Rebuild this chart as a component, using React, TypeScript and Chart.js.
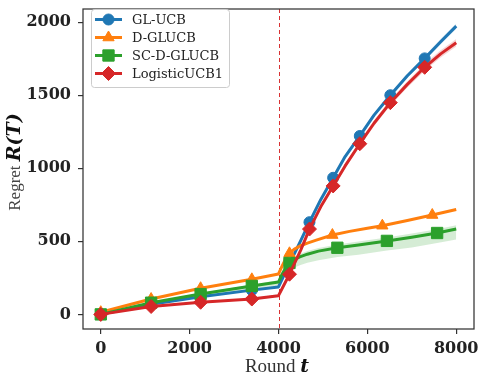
import React, { useEffect, useRef } from 'react';
import { Chart, registerables } from 'chart.js';
Chart.register(...registerables);

const xTicks = [0, 2000, 4000, 6000, 8000];
const yTicks = [0, 500, 1000, 1500, 2000];
const seriesNames = ['GL-UCB', 'D-GLUCB', 'SC-D-GLUCB', 'LogisticUCB1'];
const switchRound = 4000;

// GL-UCB (blue)
const glX = [0, 1133, 2247, 3400, 4000, 4247, 4500, 4697, 4950, 5230, 5500, 5830, 6150, 6517, 6900, 7290, 7650, 8000];
const glY = [0, 70, 120, 166, 188, 345, 505, 631, 785, 935, 1080, 1221, 1364, 1500, 1633, 1752, 1866, 1973];
const glLo = [0, 68, 117, 162, 183, 339, 497, 622, 775, 924, 1068, 1208, 1350, 1485, 1617, 1735, 1848, 1955];
const glHi = [0, 72, 123, 170, 193, 351, 513, 640, 795, 946, 1092, 1234, 1378, 1515, 1649, 1769, 1884, 1991];
const glMarks = [0, 1133, 2247, 3400, 4247, 4697, 5230, 5830, 6517, 7290];

// D-GLUCB (orange)
const dX = [0, 1133, 2247, 3400, 4000, 4080, 4170, 4247, 4350, 4480, 4650, 4850, 5213, 5600, 6000, 6337, 6900, 7461, 8000];
const dY = [15, 105, 179, 240, 277, 330, 385, 418, 445, 468, 488, 508, 543, 568, 589, 607, 642, 680, 718];
const dMarks = [0, 1133, 2247, 3400, 4247, 5213, 6337, 7461];

// SC-D-GLUCB (green)
const scX = [0, 1133, 2247, 3400, 4000, 4080, 4170, 4247, 4350, 4480, 4650, 4900, 5325, 5800, 6440, 7000, 7570, 8000];
const scY = [0, 80, 139, 195, 221, 275, 322, 352, 375, 394, 412, 433, 456, 475, 503, 528, 557, 584];
const scLo = [0, 68, 115, 165, 187, 235, 275, 300, 320, 337, 353, 371, 393, 408, 437, 458, 488, 512];
const scHi = [0, 85, 147, 205, 233, 288, 338, 370, 394, 414, 433, 455, 478, 498, 527, 553, 582, 610];
const scMarks = [0, 1133, 2247, 3400, 4247, 5325, 6440, 7570];

// LogisticUCB1 (red)
const lgX = [0, 1133, 2247, 3400, 4000, 4247, 4500, 4697, 4950, 5230, 5500, 5830, 6150, 6517, 6900, 7290, 7650, 8000];
const lgY = [0, 54, 83, 105, 128, 275, 440, 584, 736, 879, 1016, 1168, 1308, 1449, 1574, 1691, 1783, 1859];
const lgLo = [0, 51, 78, 99, 120, 265, 428, 570, 721, 863, 999, 1150, 1289, 1429, 1552, 1667, 1758, 1833];
const lgHi = [0, 57, 88, 111, 136, 285, 452, 598, 751, 895, 1033, 1186, 1327, 1469, 1596, 1715, 1808, 1885];
const lgMarks = [0, 1133, 2247, 3400, 4247, 4697, 5230, 5830, 6517, 7290];

const COLORS = ['#1f77b4', '#ff7f0e', '#2ca02c', '#d62728'];
const STYLES = ['circle', 'triangle', 'rect', 'rectRot'];
const RADII = [5.5, 6.5, 8, 7];

const pts = (xs: number[], ys: number[]) => xs.map((x, i) => ({ x, y: ys[i] }));

function drawMarker(ctx: CanvasRenderingContext2D, style: string, x: number, y: number, r: number) {
  ctx.beginPath();
  if (style === 'circle') {
    ctx.arc(x, y, r, 0, Math.PI * 2);
  } else if (style === 'triangle') {
    for (let k = 0; k < 3; k++) {
      const a = -Math.PI / 2 + (k * 2 * Math.PI) / 3;
      const px = x + Math.cos(a) * r;
      const py = y + Math.sin(a) * r;
      if (k === 0) ctx.moveTo(px, py); else ctx.lineTo(px, py);
    }
    ctx.closePath();
  } else if (style === 'rect') {
    const s = Math.SQRT1_2 * r;
    ctx.rect(x - s, y - s, 2 * s, 2 * s);
  } else {
    ctx.moveTo(x, y - r);
    ctx.lineTo(x + r, y);
    ctx.lineTo(x, y + r);
    ctx.lineTo(x - r, y);
    ctx.closePath();
  }
  ctx.fill();
  ctx.stroke();
}

const decorPlugin = {
  id: 'decor',
  beforeDatasetsDraw(chart: any) {
    const { ctx, chartArea, scales } = chart;
    const xp = scales.x.getPixelForValue(switchRound);
    ctx.save();
    ctx.strokeStyle = 'rgba(214,39,40,0.95)';
    ctx.lineWidth = 1;
    ctx.setLineDash([4, 3]);
    ctx.beginPath();
    ctx.moveTo(Math.round(xp) + 0.5, chartArea.top);
    ctx.lineTo(Math.round(xp) + 0.5, chartArea.bottom);
    ctx.stroke();
    ctx.restore();
  },
  afterDraw(chart: any) {
    const { ctx, chartArea } = chart;
    ctx.save();
    // frame
    ctx.strokeStyle = '#333';
    ctx.lineWidth = 1.25;
    ctx.strokeRect(chartArea.left, chartArea.top, chartArea.right - chartArea.left, chartArea.bottom - chartArea.top);

    // legend
    const bx = 91.5, by = 9.5, bw = 138, bh = 78;
    ctx.fillStyle = 'rgba(255,255,255,0.85)';
    ctx.strokeStyle = '#cccccc';
    ctx.lineWidth = 1;
    ctx.beginPath();
    (ctx as any).roundRect(bx, by, bw, bh, 3);
    ctx.fill();
    ctx.stroke();
    for (let i = 0; i < 4; i++) {
      const y = 19.5 + i * 18;
      ctx.strokeStyle = COLORS[i];
      ctx.lineWidth = 3;
      ctx.beginPath();
      ctx.moveTo(95, y);
      ctx.lineTo(122, y);
      ctx.stroke();
      ctx.fillStyle = COLORS[i];
      ctx.lineWidth = 1;
      drawMarker(ctx, STYLES[i], 108.5, y, RADII[i]);
      ctx.fillStyle = '#222';
      ctx.font = '13px "DejaVu Serif"';
      ctx.textBaseline = 'middle';
      ctx.textAlign = 'left';
      ctx.fillText(seriesNames[i], 132, y + 1);
    }

    // x title
    ctx.textBaseline = 'alphabetic';
    ctx.fillStyle = '#333';
    ctx.font = '19px "Liberation Serif"';
    const w1 = ctx.measureText('Round ').width;
    ctx.font = 'italic bold 19px "DejaVu Serif"';
    const w2 = ctx.measureText('t').width;
    let sx = 277 - (w1 + w2) / 2;
    ctx.font = '19px "Liberation Serif"';
    ctx.fillText('Round ', sx, 372);
    ctx.fillStyle = '#111';
    ctx.font = 'italic bold 19px "DejaVu Serif"';
    ctx.fillText('t', sx + w1, 372);

    // y title
    ctx.translate(20, 162);
    ctx.rotate(-Math.PI / 2);
    ctx.font = '17px "Liberation Serif"';
    const v1 = ctx.measureText('Regret ').width;
    ctx.font = 'italic bold 19px "DejaVu Serif"';
    const v2 = ctx.measureText('R(T)').width;
    const s0 = -(v1 + v2) / 2;
    ctx.fillStyle = '#444';
    ctx.font = '17px "Liberation Serif"';
    ctx.fillText('Regret ', s0, 0);
    ctx.fillStyle = '#111';
    ctx.font = 'italic bold 19px "DejaVu Serif"';
    ctx.fillText('R(T)', s0 + v1, 0);
    ctx.restore();
  },
};

function seriesDatasets(xs: number[], ys: number[], marks: number[], i: number) {
  return {
    label: seriesNames[i],
    data: pts(xs, ys),
    borderColor: COLORS[i],
    backgroundColor: COLORS[i],
    borderWidth: 3,
    tension: 0,
    borderJoinStyle: 'round' as const,
    pointStyle: STYLES[i],
    pointRadius: (c: any) => (marks.includes(xs[c.dataIndex]) ? RADII[i] : 0),
    pointBorderWidth: 1,
    pointBorderColor: COLORS[i],
    pointBackgroundColor: COLORS[i],
    fill: false,
    order: 4 - i,
  };
}

function band(xs: number[], lo: number[], hi: number[], color: string) {
  return [
    { label: 'hi', data: pts(xs, hi), borderWidth: 0, pointRadius: 0, fill: false, tension: 0, order: 20 },
    { label: 'lo', data: pts(xs, lo), borderWidth: 0, pointRadius: 0, fill: '-1', backgroundColor: color, tension: 0, order: 20 },
  ];
}

export default function App() {
  const ref = useRef<HTMLCanvasElement>(null);
  useEffect(() => {
    if (!ref.current) return;
    const tickFont = { family: '"DejaVu Serif"', size: 16, weight: 'bold' as const };
    const chart = new Chart(ref.current, {
      type: 'line',
      data: {
        datasets: [
          ...band(scX, scLo, scHi, 'rgba(44,160,44,0.2)'),
          ...band(lgX, lgLo, lgHi, 'rgba(214,39,40,0.2)'),
          ...band(glX, glLo, glHi, 'rgba(31,119,180,0.2)'),
          seriesDatasets(glX, glY, glMarks, 0),
          seriesDatasets(dX, dY, dMarks, 1),
          seriesDatasets(scX, scY, scMarks, 2),
          seriesDatasets(lgX, lgY, lgMarks, 3),
        ] as any,
      },
      options: {
        animation: false,
        responsive: true,
        maintainAspectRatio: false,
        layout: { padding: { left: 0, right: 9, top: 1, bottom: 0 } },
        plugins: { legend: { display: false }, tooltip: { enabled: false } },
        scales: {
          x: {
            type: 'linear',
            min: -400,
            max: 8400,
            afterBuildTicks: (s: any) => { s.ticks = xTicks.map((v) => ({ value: v })); },
            afterFit: (s: any) => { s.height = 47; s.paddingLeft = 0; s.paddingRight = 0; },
            border: { display: false },
            grid: { display: true, drawOnChartArea: false, drawTicks: true, tickLength: 5, color: '#333', lineWidth: 1.2 },
            ticks: { color: '#222', padding: 5, maxRotation: 0, font: tickFont, callback: (v: any) => String(v) },
          },
          y: {
            type: 'linear',
            min: -100,
            max: 2090,
            afterBuildTicks: (s: any) => { s.ticks = yTicks.map((v) => ({ value: v })); },
            afterFit: (s: any) => { s.width = 83; s.paddingTop = 0; s.paddingBottom = 0; },
            border: { display: false },
            grid: { display: true, drawOnChartArea: false, drawTicks: true, tickLength: 5, color: '#333', lineWidth: 1.2 },
            ticks: { color: '#222', padding: 7, font: tickFont, callback: (v: any) => String(v) },
          },
        },
      },
      plugins: [decorPlugin],
    });
    return () => chart.destroy();
  }, []);
  return (
    <div style={{ position: 'fixed', left: 0, top: 0, width: 483, height: 376, background: '#fff' }}>
      <canvas ref={ref} />
    </div>
  );
}
